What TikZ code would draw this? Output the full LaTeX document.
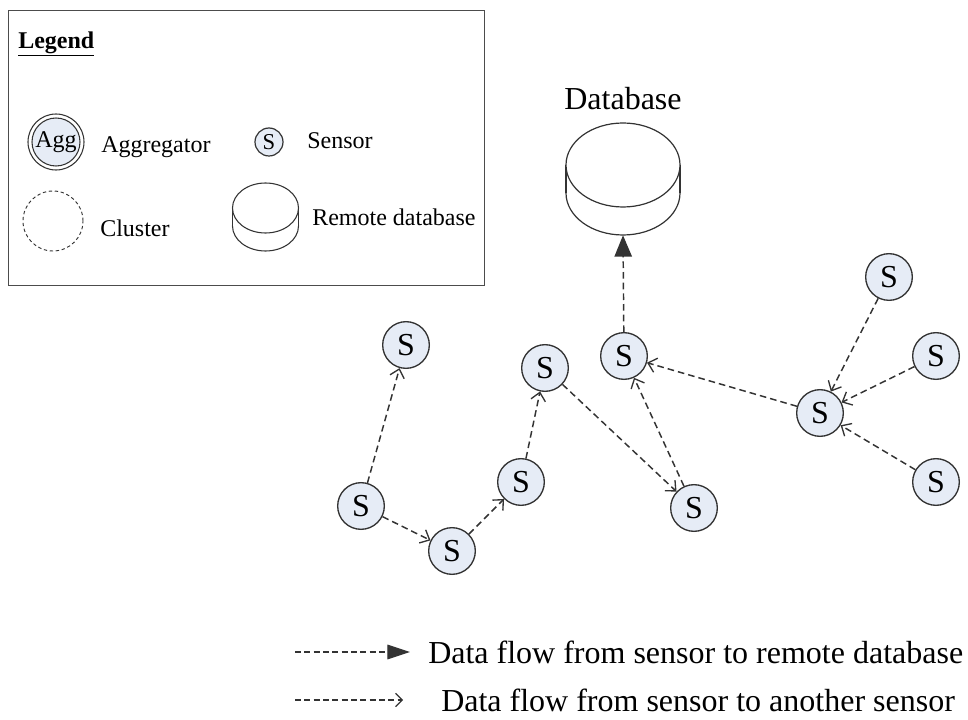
\documentclass[tikz,border=0pt]{standalone}
\usepackage{fontspec}
\setmainfont{Liberation Serif}
\usetikzlibrary{arrows.meta}
\definecolor{sfill}{HTML}{E6ECF6}
\definecolor{edgec}{HTML}{333333}
\tikzset{
  sensor/.style={circle,draw=edgec,line width=1pt,fill=sfill,minimum size=35pt,inner sep=0pt,font=\fontsize{24}{24}\selectfont},
  lsensor/.style={circle,draw=edgec,line width=0.9pt,fill=sfill,minimum size=21pt,inner sep=0pt,font=\fontsize{17}{17}\selectfont},
  flow/.style={draw=edgec,line width=1.1pt,dash pattern=on 5pt off 3pt,-{Straight Barb[length=6pt,width=11pt,line width=1pt]}},
  dbflow/.style={draw=edgec,line width=1.1pt,dash pattern=on 5pt off 3pt,-{Triangle[length=16pt,width=13pt]}},
  lbl/.style={anchor=west,inner sep=0pt,font=\fontsize{18}{18}\selectfont},
  big/.style={inner sep=0pt,font=\fontsize{24}{24}\selectfont},
}
\begin{document}
\begin{tikzpicture}[x=0.75pt,y=-0.75pt]
\useasboundingbox (0,0) rectangle (968,720);
% legend box
\node[draw=black!70,line width=0.8pt,minimum width=357pt,minimum height=206pt,inner sep=0pt,anchor=north west] (legendbox) at (8,10) {};
\node[anchor=west,inner sep=0pt,font=\fontsize{18}{18}\selectfont\bfseries] (legendtitle) at (18,44) {\underline{Legend}};
% aggregator
\node[circle,draw=edgec,line width=0.8pt,minimum size=42pt,inner sep=0pt] (aggouter) at (56,142) {};
\node[circle,draw=edgec,line width=0.8pt,fill=sfill,minimum size=36pt,inner sep=0pt,font=\fontsize{18}{18}\selectfont] (agg) at (56,142) {Agg};
\node[lbl] (agglbl) at (101,147) {Aggregator};
% sensor
\node[lsensor] (lsens) at (269,142) {S};
\node[lbl] (senslbl) at (307,141) {Sensor};
% cluster
\node[circle,draw=edgec,line width=0.7pt,dash pattern=on 2.5pt off 2pt,minimum size=45pt,inner sep=0pt] (cluster) at (53,221) {};
\node[lbl] (clustlbl) at (100,228) {Cluster};
% legend cylinder
\draw[edgec,line width=0.8pt,fill=white] (265.5,226) ellipse (33 and 25);
\fill[white] (232.5,208) rectangle (298.5,226);
\draw[edgec,line width=0.8pt] (232.5,208) -- (232.5,226) (298.5,208) -- (298.5,226);
\draw[edgec,line width=0.8pt,fill=white] (265.5,208) ellipse (33 and 25);
\node[inner sep=0pt,minimum width=49.5pt,minimum height=51pt] (ldb) at (265.5,217) {};
\node[lbl] (ldblbl) at (312,217) {Remote database};
% main database
\draw[edgec,line width=0.9pt,fill=white] (623,193) ellipse (57 and 42);
\fill[white] (566,165) rectangle (680,193);
\draw[edgec,line width=0.9pt] (566,165) -- (566,193) (680,165) -- (680,193);
\draw[edgec,line width=0.9pt,fill=white] (623,165) ellipse (57 and 42);
\node[inner sep=0pt,minimum width=85.5pt,minimum height=84pt] (db) at (623,179) {};
\node[big] (dblbl) at (623,99) {Database};
% sensors
\node[sensor] (s1) at (406,345) {S};
\node[sensor] (s2) at (545,368) {S};
\node[sensor] (s3) at (624,356) {S};
\node[sensor] (s4) at (361,506) {S};
\node[sensor] (s5) at (452,551) {S};
\node[sensor] (s6) at (521,482) {S};
\node[sensor] (s7) at (694,508) {S};
\node[sensor] (s8) at (820,413) {S};
\node[sensor] (s9) at (889,277) {S};
\node[sensor] (s10) at (936,356) {S};
\node[sensor] (s11) at (936,482) {S};
% flows
\draw[flow] (s4) -- (s1);
\draw[flow] (s4) -- (s5);
\draw[flow] (s5) -- (s6);
\draw[flow] (s6) -- (s2);
\draw[flow] (s2) -- (s7);
\draw[flow] (s7) -- (s3);
\draw[flow] (s8) -- (s3);
\draw[flow] (s9) -- (s8);
\draw[flow] (s10) -- (s8);
\draw[flow] (s11) -- (s8);
\draw[dbflow] (s3) -- (db.south);
% bottom legend
\coordinate (a1s) at (295,652);
\coordinate (a1e) at (410,652);
\coordinate (a2s) at (295,700);
\coordinate (a2e) at (403,700);
\draw[dbflow,line width=0.9pt,dash pattern=on 4.5pt off 2.5pt,-{Triangle[length=17pt,width=11pt]}] (a1s) -- (a1e);
\draw[flow,line width=0.9pt,dash pattern=on 4.5pt off 2.5pt,-{Straight Barb[length=5pt,width=10pt,line width=0.8pt]}] (a2s) -- (a2e);
\node[big,anchor=west] (t1) at (428,652) {Data flow from sensor to remote database};
\node[big,anchor=west] (t2) at (441,700) {Data flow from sensor to another sensor};
\end{tikzpicture}
\end{document}
